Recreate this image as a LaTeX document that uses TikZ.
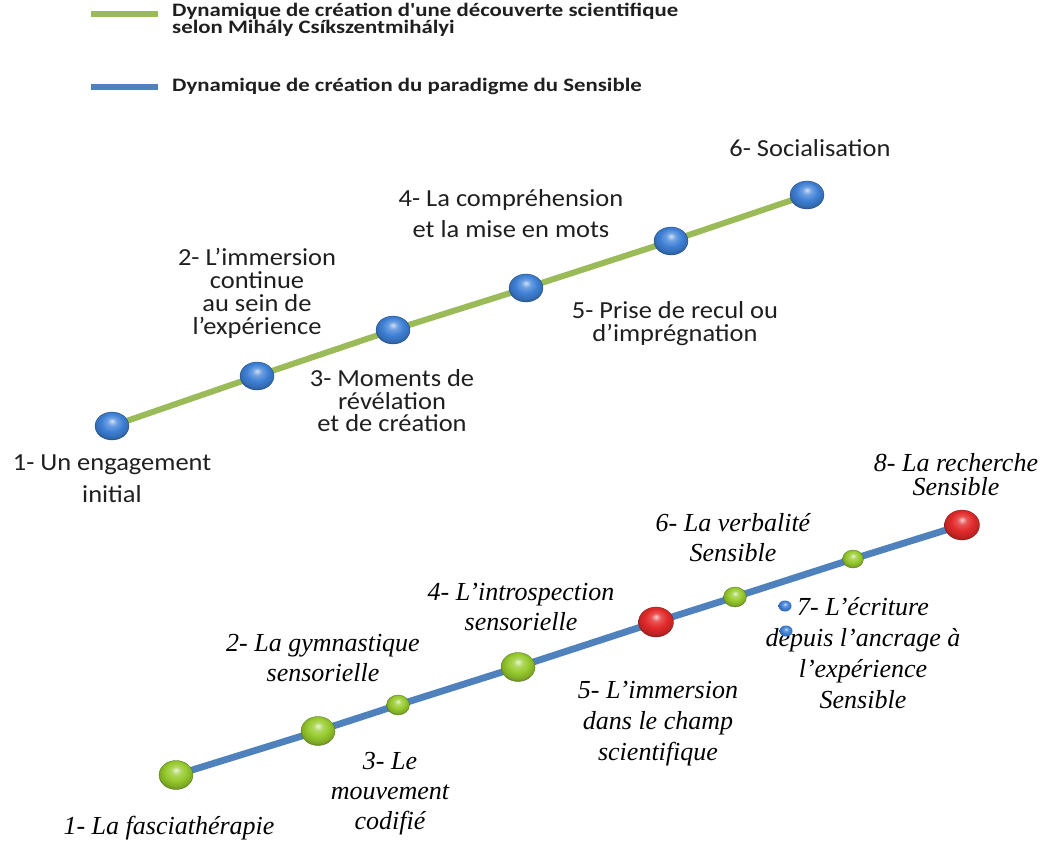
\documentclass[tikz,border=0pt]{standalone}
\usepackage{fontspec}
\setmainfont{Carlito}
\newfontfamily\legfont[FakeStretch=1.2]{Carlito}
\newfontfamily\topfont[FakeStretch=1.08]{Carlito}
\newfontfamily\botfont{Liberation Serif}
\usetikzlibrary{shapes.geometric,backgrounds}
\definecolor{lgreen}{RGB}{155,187,89}
\definecolor{lblue}{RGB}{79,129,189}
\definecolor{dotblue}{RGB}{62,128,214}
\definecolor{dotgreen}{RGB}{150,202,45}
\definecolor{dotred}{RGB}{226,42,42}
\pgfdeclareradialshading{sphblue}{\pgfqpoint{0bp}{9bp}}{color(0bp)=(dotblue!25!white); color(7bp)=(dotblue!75!white); color(16bp)=(dotblue); color(24bp)=(dotblue!85!black); color(30bp)=(dotblue!65!black); color(50bp)=(dotblue!65!black)}
\pgfdeclareradialshading{sphgreen}{\pgfqpoint{0bp}{9bp}}{color(0bp)=(dotgreen!20!white); color(7bp)=(dotgreen!75!white); color(16bp)=(dotgreen); color(24bp)=(dotgreen!85!black); color(30bp)=(dotgreen!65!black); color(50bp)=(dotgreen!65!black)}
\pgfdeclareradialshading{sphred}{\pgfqpoint{0bp}{9bp}}{color(0bp)=(dotred!25!white); color(7bp)=(dotred!80!white); color(16bp)=(dotred); color(24bp)=(dotred!85!black); color(30bp)=(dotred!65!black); color(50bp)=(dotred!65!black)}
\begin{document}
\begin{tikzpicture}[x=1pt,y=-1pt,
  gline/.style={line width=6pt,color=lgreen},
  bline/.style={line width=6.8pt,color=lblue},
  legline/.style={line width=5.5pt},
  dotbase/.style={ellipse,inner sep=0pt,outer sep=0pt,line width=0.3pt},
  bdot/.style={dotbase,minimum width=34pt,minimum height=28pt,shading=sphblue,shade,draw=dotblue!55!black},
  gbig/.style={dotbase,minimum width=34pt,minimum height=29pt,shading=sphgreen,shade,draw=dotgreen!55!black},
  gsmall/.style={dotbase,minimum width=23pt,minimum height=20pt,shading=sphgreen,shade,draw=dotgreen!55!black},
  rdot/.style={dotbase,minimum width=35pt,minimum height=30pt,shading=sphred,shade,draw=dotred!55!black},
  bullet/.style={dotbase,minimum width=13pt,minimum height=11pt,shading=sphblue,shade},
  toplab/.style={font=\topfont\fontsize{24.5}{#1}\selectfont,align=center,inner sep=0pt,text=black!88},
  toplab/.default=23,
  botlab/.style={font=\botfont\itshape\fontsize{26}{#1}\selectfont,align=center,inner sep=0pt,text=black},
  botlab/.default=30,
  legtext/.style={font=\legfont\bfseries\fontsize{19}{13.5}\selectfont,align=left,inner sep=0pt,anchor=west,text=black!88}
]
\useasboundingbox (0,0) rectangle (1047,845);

% legend
\coordinate (lg1) at (91,14);
\coordinate (lg2) at (158,14);
\coordinate (lb1) at (91,87);
\coordinate (lb2) at (158,87);
\draw[legline,lgreen] (lg1) -- (lg2);
\draw[legline,lblue] (lb1) -- (lb2);
\node[legtext] (legA) at (172,20) {Dynamique de création d'une découverte scientifique\\selon Mihály Csíkszentmihályi};
\node[legtext] (legB) at (172,86) {Dynamique de création du paradigme du Sensible};

% top dots
\node[bdot] (t1) at (112,426) {};
\node[bdot] (t2) at (257,376) {};
\node[bdot] (t3) at (393,330) {};
\node[bdot] (t4) at (526,288) {};
\node[bdot] (t5) at (671,241) {};
\node[bdot] (t6) at (807,195) {};

% bottom dots
\node[gbig] (b1) at (176,775) {};
\node[gbig] (b2) at (318,731) {};
\node[gsmall] (b3) at (398,705) {};
\node[gbig] (b4) at (518,667) {};
\node[rdot] (b5) at (656,622) {};
\node[gsmall] (b6) at (735,597) {};
\node[gsmall,minimum width=21pt,minimum height=18pt] (b7) at (853,559) {};
\node[rdot] (b8) at (962,525) {};

\begin{pgfonlayer}{background}
\draw[gline] (t1.center) -- (t2.center) -- (t3.center) -- (t4.center) -- (t5.center) -- (t6.center);
\draw[bline] (b1.center) -- (b2.center) -- (b3.center) -- (b4.center) -- (b5.center) -- (b6.center) -- (b7.center) -- (b8.center);
\end{pgfonlayer}

% top labels
\node[toplab=32] (L1) at (112,479) {1- Un engagement\\initial};
\node[toplab=23] (L2) at (257,293) {2- L’immersion\\continue\\au sein de\\l’expérience};
\node[toplab=22.5] (L3) at (392,401) {3- Moments de\\révélation\\et de création};
\node[toplab=31] (L4) at (511,214) {4- La compréhension\\et la mise en mots};
\node[toplab=23] (L5) at (675,324) {5- Prise de recul ou\\d’imprégnation};
\node[toplab] (L6) at (810,148) {6- Socialisation};

% bottom labels
\node[botlab] (B1) at (169,828) {1- La fasciathérapie};
\node[botlab=30] (B2) at (323,658) {2- La gymnastique\\sensorielle};
\node[botlab=30] (B3) at (390,794) {3- Le\\mouvement\\codifié};
\node[botlab=30] (B4) at (521,607) {4- L’introspection\\sensorielle};
\node[botlab=31] (B5) at (658,724) {5- L’immersion\\dans le champ\\scientifique};
\node[botlab=30] (B6) at (733,538) {6- La verbalité\\Sensible};
\node[botlab=31] (B7) at (863,653) {7- L’écriture\\depuis l’ancrage à\\l’expérience\\Sensible};
\node[botlab=24] (B8) at (956,475) {8- La recherche\\Sensible};

% bullets of item 7
\node[bullet] (bu1) at (785,606) {};
\node[bullet] (bu2) at (786,631) {};
\end{tikzpicture}
\end{document}
